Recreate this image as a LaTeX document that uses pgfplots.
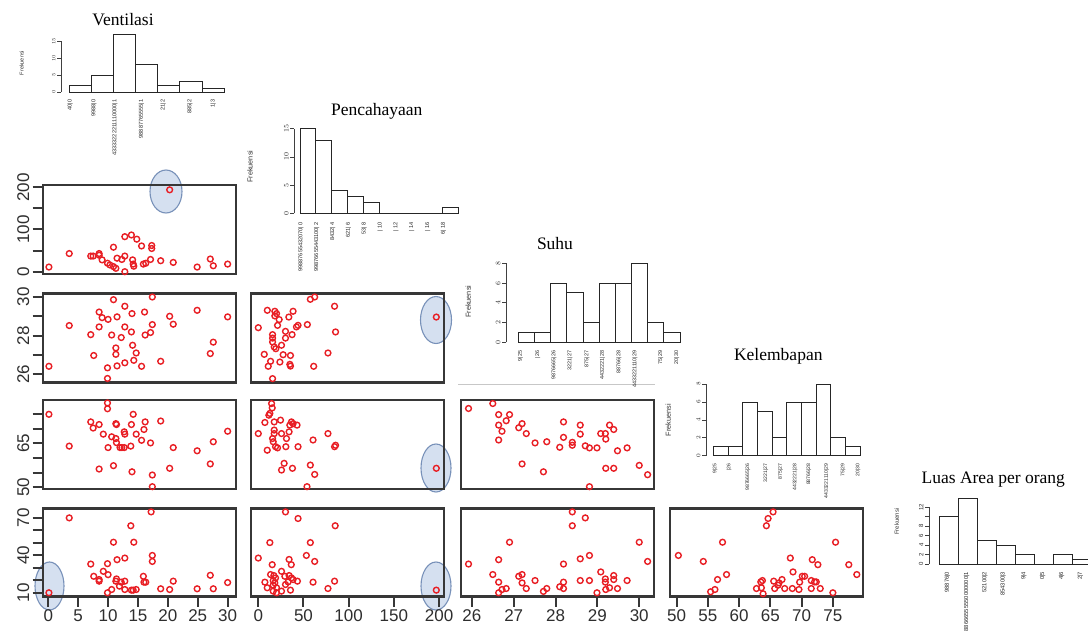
\documentclass[border=0pt]{standalone}
\usepackage{fontspec}
\setmainfont{Liberation Sans}
\newfontfamily\titlefont{Liberation Serif}
\usepackage{pgfplots}
\pgfplotsset{compat=1.18}
\definecolor{ptred}{RGB}{232,30,36}
\definecolor{frame}{RGB}{55,55,55}
\definecolor{ellfill}{RGB}{200,214,236}
\definecolor{elldraw}{RGB}{120,145,185}
\pgfplotsset{
  scat/.style={
    scale only axis, anchor=south west, width=193.3pt, height=89pt,
    axis line style={draw=frame, line width=2.3pt},
    xtick=\empty, ytick=\empty,
    tick align=outside, major tick length=10pt,
    xtick pos=lower, ytick pos=left,
    tick style={draw=frame, line width=2pt},
    tick label style={font=\fontsize{17}{17}\selectfont, text=black!82},
    yticklabel style={rotate=90, anchor=south},
    clip=false,
  },
  pts/.style={only marks, mark=o, mark size=2.9pt, draw=ptred, mark options={line width=1.4pt, draw=ptred}},
  hist/.style={
    scale only axis, anchor=south west,
    axis x line*=bottom, axis y line*=left,
    axis line style={draw=none,-},
    xtick style={draw=none},
    ytick style={draw=black!75, line width=0.7pt},
    tick align=outside, major tick length=4pt,
    xticklabel style={rotate=90, anchor=east, inner sep=1pt, text=black!85},
    yticklabel style={rotate=90, anchor=south, inner sep=1.5pt, text=black!85},
    clip=false,
  },
  bars/.style={ybar interval, draw=black!85, fill=white, line width=0.9pt},
}
\begin{document}
\begin{tikzpicture}
\useasboundingbox (0pt,0pt) rectangle (1088pt,-633pt);
\fill[white] (0pt,0pt) rectangle (1088pt,-633pt);

% highlight ellipses
\begin{scope}[fill=ellfill, draw=elldraw, line width=1.1pt, fill opacity=0.75]
\filldraw (166pt,-191.5pt) ellipse [x radius=16pt, y radius=21.5pt];
\filldraw (436pt,-320pt) ellipse [x radius=15.5pt, y radius=23.5pt];
\filldraw (436pt,-468pt) ellipse [x radius=15pt, y radius=24pt];
\filldraw (436pt,-586pt) ellipse [x radius=15pt, y radius=24pt];
\filldraw (49.5pt,-586pt) ellipse [x radius=14.5pt, y radius=24pt];
\end{scope}
\draw[black!22, line width=0.8pt] (458pt,-384pt) -- (655pt,-384pt);

% ---------------- Histograms ----------------
% Ventilasi
\node[font=\titlefont\fontsize{17.5}{18}\selectfont] at (123pt,-20pt) {Ventilasi};
\node[rotate=90, font=\fontsize{5.5}{6}\selectfont, text=black!80] at (21.7pt,-63pt) {Frekuensi};
\begin{axis}[hist, at={(61pt,-94.3pt)}, width=171.3pt, height=62.1pt,
  xmin=-0.36, xmax=7.36, ymin=-0.68, ymax=17.68,
  ytick={0,5,10,15},
  yticklabel style={font=\fontsize{5.5}{5.5}\selectfont},
  xtick={0.05,1.13,2.07,3.27,4.25,5.45,6.5},
  xticklabels={40|0,9988|0,43333222211110000|1,98887765555|1,21|2,885|2,1|3},
  xticklabel style={font=\fontsize{5.6}{6}\selectfont}]
\addplot[bars] coordinates {(0,2)(1,5)(2,17)(3,8)(4,2)(5,3)(6,1)(7,1)};
\draw[black!75, line width=0.7pt] (axis cs:-0.36,0) -- (axis cs:-0.36,15);
\end{axis}

% Pencahayaan
\node[font=\titlefont\fontsize{17.5}{18}\selectfont] at (376.7pt,-111.7pt) {Pencahayaan};
\node[rotate=90, font=\fontsize{7.3}{8}\selectfont, text=black!80] at (250pt,-166.7pt) {Frekuensi};
\begin{axis}[hist, at={(294.3pt,-216.7pt)}, width=169.7pt, height=91.4pt,
  xmin=-0.36, xmax=10.36, ymin=-0.6, ymax=15.6,
  ytick={0,5,10,15},
  yticklabel style={font=\fontsize{7}{7}\selectfont},
  xtick={0.06,1.06,2.06,3.06,4.06,5.06,6.06,7.06,8.06,9.06},
  xticklabels={99887655432070| 0,99876655443100| 2,8432| 4,621| 6,53| 8,| 10,| 12,| 14,| 16,6| 18},
  xticklabel style={font=\fontsize{5.6}{6}\selectfont}]
\addplot[bars] coordinates {(0,15)(1,13)(2,4)(3,3)(4,2)(5,0)(6,0)(7,0)(8,0)(9,1)(10,1)};
\draw[black!75, line width=0.7pt] (axis cs:-0.36,0) -- (axis cs:-0.36,15);
\end{axis}

% Suhu
\node[font=\titlefont\fontsize{17.5}{18}\selectfont] at (555pt,-243.3pt) {Suhu};
\node[rotate=90, font=\fontsize{7.3}{8}\selectfont, text=black!80] at (468.3pt,-301.7pt) {Frekuensi};
\begin{axis}[hist, at={(506pt,-345.5pt)}, width=180.5pt, height=85.4pt,
  xmin=-0.76, xmax=10.4, ymin=-0.32, ymax=8.32,
  ytick={0,2,4,6,8},
  yticklabel style={font=\fontsize{7}{7}\selectfont},
  xtick={0.14,1.2,2.2,3.2,4.25,5.2,6.23,7.22,8.8,9.8},
  xticklabels={9|25,|26,9876665|26,3221|27,875|27,4432221|28,88766|28,4433221110|29,75|29,20|30},
  xticklabel style={font=\fontsize{5.4}{6}\selectfont}]
\addplot[bars] coordinates {(0,1)(1,1)(2,6)(3,5)(4,2)(5,6)(6,6)(7,8)(8,2)(9,1)(10,1)};
\draw[black!75, line width=0.7pt] (axis cs:-0.76,0) -- (axis cs:-0.76,8);
\end{axis}

% Kelembapan
\node[font=\titlefont\fontsize{17.5}{18}\selectfont] at (778.3pt,-356pt) {Kelembapan};
\node[rotate=90, font=\fontsize{7.3}{8}\selectfont, text=black!80] at (668.3pt,-420pt) {Frekuensi};
\begin{axis}[hist, at={(706pt,-458.6pt)}, width=160pt, height=77.4pt,
  xmin=-0.5, xmax=10.4, ymin=-0.32, ymax=8.32,
  ytick={0,2,4,6,8},
  yticklabel style={font=\fontsize{6.5}{7}\selectfont},
  xtick={0.11,1.07,2.34,3.58,4.58,5.56,6.5,7.71,8.84,9.86},
  xticklabels={9|25,|26,9876665|26,3221|27,875|27,4432221|28,88766|28,4433221110|29,75|29,20|30},
  xticklabel style={font=\fontsize{5.1}{6}\selectfont}]
\addplot[bars] coordinates {(0,1)(1,1)(2,6)(3,5)(4,2)(5,6)(6,6)(7,8)(8,2)(9,1)(10,1)};
\draw[black!75, line width=0.7pt] (axis cs:-0.5,0) -- (axis cs:-0.5,8);
\end{axis}

% Luas Area per orang
\node[font=\titlefont\fontsize{17.5}{18}\selectfont] at (993.3pt,-480pt) {Luas Area per orang};
\node[rotate=90, font=\fontsize{6}{7}\selectfont, text=black!80] at (896.7pt,-521.7pt) {Frekuensi};
\begin{axis}[hist, at={(929pt,-566.6pt)}, width=170.5pt, height=71.3pt,
  xmin=-0.54, xmax=8.4, ymin=-0.56, ymax=14.56,
  ytick={0,2,4,6,8,10,12}, yticklabels={0,2,4,6,8,,12},
  yticklabel style={font=\fontsize{6}{6}\selectfont},
  xtick={0.42,1.43,2.39,3.35,4.44,5.42,6.42,7.4},
  xticklabels={98876|0,88666555550000000|1,52100|2,854300|3,9|4,0|5,4|6,2|7},
  xticklabel style={font=\fontsize{5.8}{6}\selectfont}]
\addplot[bars] coordinates {(0,10)(1,14)(2,5)(3,4)(4,2)(5,0)(6,2)(7,1)(8,1)};
\draw[black!75, line width=0.7pt] (axis cs:-0.54,0) -- (axis cs:-0.54,12);
\end{axis}

% ---------------- Scatter panels ----------------
% Row 1: Pencahayaan vs Ventilasi
\begin{axis}[scat, at={(42.7pt,-274.3pt)}, height=89.3pt,
  xmin=-0.94, xmax=31.4, ymin=-6.2, ymax=205.4,
  ytick={0,50,100,150,200}, yticklabels={0,,100,,200}]
\addplot[pts] coordinates {(0.1,11)(3.5,43)(7.1,37)(7.5,37)(8.5,43)(8.5,39)(9.0,28)(9.9,20)(10.3,16)(10.9,12)(10.9,58)(11.3,8)(11.5,32)(12.3,29)(12.8,37)(12.8,0)(12.8,83)(13.9,87)(14.1,28)(14.2,18)(14.3,13)(14.8,77)(15.6,61)(15.9,18)(16.3,20)(17.3,62)(17.3,55)(17.1,29)(18.8,26)(20.3,194)(20.9,22)(24.9,11)(27.1,30)(27.6,14)(30.0,18)};
\end{axis}

% Row 2: Suhu
\begin{axis}[scat, at={(42.7pt,-382.5pt)},
  xmin=-0.94, xmax=31.4, ymin=25.57, ymax=30.18,
  ytick={26,27,28,29,30}, yticklabels={26,,28,,30}]
\addplot[pts] coordinates {(0.1,26.41)(3.5,28.52)(7.1,28.05)(7.6,26.97)(8.5,29.22)(8.5,28.45)(9.0,28.93)(10.0,28.84)(9.9,26.33)(9.9,25.78)(10.6,28.03)(10.9,29.86)(11.3,27.36)(11.3,27.03)(11.5,28.97)(11.5,26.43)(12.2,27.9)(12.8,29.52)(12.8,28.45)(12.8,26.59)(14.0,29.14)(13.9,28.19)(14.1,27.5)(14.7,27.1)(14.3,26.72)(15.6,26.41)(16.1,29.22)(16.2,28.03)(17.1,28.16)(17.4,28.57)(17.4,30.0)(18.8,26.67)(20.3,29.0)(20.9,28.59)(24.9,29.31)(27.1,27.07)(27.6,27.66)(30.0,28.97)};
\end{axis}
\begin{axis}[scat, at={(250.7pt,-382.5pt)},
  xmin=-8.4, xmax=205.5, ymin=25.57, ymax=30.18]
\addplot[pts] coordinates {(0,28.41)(10,29.31)(15.8,28.05)(15.8,27.87)(15.8,27.67)(13.6,26.67)(15.8,25.77)(11,26.41)(6.6,27.03)(18.3,29.26)(18.3,29.02)(20.2,29.14)(23.1,28.83)(21.3,28.53)(17.6,27.41)(19.4,27.32)(25.7,27.5)(27.5,27.01)(23.9,26.63)(30.1,28.22)(30.1,27.87)(33.8,28.96)(37.4,28.05)(38.5,29.26)(35.6,26.97)(34.9,26.51)(35.6,26.42)(42.2,28.45)(44,28.53)(54.3,28.57)(57.6,29.88)(62.4,30.0)(61.3,26.41)(77.1,27.1)(84.4,29.52)(85.5,28.19)(197,28.96)};
\end{axis}

% Row 3: Kelembapan
\begin{axis}[scat, at={(42.7pt,-489.3pt)},
  xmin=-0.94, xmax=31.4, ymin=49.3, ymax=79.8,
  ytick={50,55,60,65,70,75}, yticklabels={50,,,65,,}]
\addplot[pts] coordinates {(0.1,75)(3.5,64.1)(7.1,72.4)(7.5,70.3)(8.5,71.5)(8.5,56.25)(9.2,68.2)(9.9,78.9)(9.9,76.9)(10.0,63.6)(10.6,67.3)(10.9,57.4)(11.3,71.8)(11.4,71.5)(11.3,66.7)(11.4,65.3)(12.0,63.6)(12.3,63.6)(12.7,69.0)(12.8,68.2)(12.7,63.6)(13.8,64.1)(13.9,71.5)(14.0,55.3)(14.2,75)(14.7,68.2)(15.6,66.1)(16.0,69.8)(16.2,72.4)(17.1,65.2)(17.4,54.2)(17.4,50.2)(18.8,72.7)(20.3,56.5)(20.9,63.6)(24.9,62.5)(27.1,58.0)(27.6,65.6)(30.0,69.2)};
\end{axis}
\begin{axis}[scat, at={(250.7pt,-489.3pt)},
  xmin=-8.4, xmax=205.5, ymin=49.3, ymax=79.8]
\addplot[pts] coordinates {(14.7,78.7)(15.4,77.2)(12.8,75.3)(11.7,74.7)(7.3,72.2)(0,68.4)(17.6,72.4)(17.6,69.6)(17.6,68.4)(15.8,66.7)(16.5,65.6)(19.1,63.9)(21.3,63.5)(9.9,62.7)(24.6,73)(25.7,68.4)(30.5,63.9)(31.2,66.7)(34.1,69)(36.7,72.4)(34.9,71.3)(38.5,71.8)(42.9,71.3)(44,63.9)(60.6,66.2)(77.1,68.4)(84.4,63.9)(85.5,64.4)(28.6,58.2)(25.7,55.9)(37.8,56.5)(57.6,57.6)(62.4,54.4)(53.9,50.2)(197,56.5)};
\end{axis}
\begin{axis}[scat, at={(461pt,-489.3pt)},
  xmin=25.74, xmax=30.36, ymin=49.3, ymax=79.8]
\addplot[pts] coordinates {(25.92,77)(26.5,78.7)(26.64,74.9)(26.64,71.3)(26.64,66.2)(26.72,69.2)(26.82,72.8)(26.9,74.9)(27.12,70.4)(27.2,71.8)(27.3,68.4)(27.2,58)(27.51,65.2)(27.71,55.3)(27.79,65.6)(28.1,63.7)(28.19,72.4)(28.19,67.1)(28.4,65.4)(28.4,64.4)(28.59,71.3)(28.59,68.2)(28.71,64.2)(28.81,63.5)(28.81,50.2)(28.99,63.5)(29.08,68.4)(29.19,68.4)(29.29,71.3)(29.39,69.8)(29.2,66.5)(29.2,56.5)(29.39,56.5)(29.48,62.5)(29.71,63.5)(30.0,57.5)(30.2,54.3)};
\end{axis}

% Row 4: Luas Area per orang
\begin{axis}[scat, at={(42.7pt,-596.5pt)}, height=88pt,
  xmin=-0.94, xmax=31.4, ymin=7, ymax=77.5,
  ytick={10,20,30,40,50,60,70}, yticklabels={10,,,40,,,70},
  xtick={0,5,10,15,20,25,30}, xticklabels={0,5,10,15,20,25,30}]
\addplot[pts] coordinates {(0.1,10)(3.5,70)(7.1,33)(7.6,23.2)(8.5,20.6)(8.5,19.3)(9.2,27.2)(9.9,33.3)(10.0,24.5)(9.9,10)(10.6,12.6)(10.9,50.5)(11.3,19.3)(11.4,21.1)(11.5,36.5)(11.9,15.3)(12.2,18.5)(12.8,37.8)(12.8,19.3)(12.8,12.6)(13.8,63.7)(13.9,12.1)(14.2,12.1)(14.7,12.6)(14.3,50.5)(15.9,23.2)(16.0,18.5)(16.3,18.5)(17.2,74.8)(17.4,39.9)(17.4,35.1)(18.8,13.2)(20.3,12.6)(20.9,19.3)(24.9,13.2)(27.1,24)(27.6,13.2)(30.0,18.2)};
\end{axis}
\begin{axis}[scat, at={(250.7pt,-596.5pt)}, height=88pt,
  xmin=-8.4, xmax=205.5, ymin=7, ymax=77.5,
  xtick={0,50,100,150,200}, xticklabels={0,50,100,150,200}]
\addplot[pts] coordinates {(30.1,74.8)(44,69.5)(85.1,63.7)(12.8,50.2)(57.6,50.2)(0,37.8)(34.1,36.7)(36.5,32.5)(53.2,39.9)(62.4,35.1)(15.4,32.5)(13.6,24.6)(17.2,23.8)(19.1,21.9)(16.5,19.8)(18.3,17.9)(16.5,16.1)(20.2,14)(16.5,11.3)(20.2,10)(25.7,27.2)(29.4,23.2)(34.1,23.8)(36.7,21.9)(38.5,20.6)(43.3,19.3)(33.0,18.7)(7.3,18.5)(9.9,14)(30.1,16.6)(35.6,12.1)(25.7,11.3)(60.6,18.5)(77.1,13.4)(84.4,19.3)(197,12.1)};
\end{axis}
\begin{axis}[scat, at={(461pt,-596.5pt)}, height=88pt,
  xmin=25.74, xmax=30.36, ymin=7, ymax=77.5,
  xtick={26,27,28,29,30}, xticklabels={26,27,28,29,30}]
\addplot[pts] coordinates {(25.92,33)(26.5,24.6)(26.64,36.5)(26.64,18.5)(26.64,10)(26.72,12.6)(26.82,13.4)(26.9,50.5)(27.12,23.2)(27.2,24.6)(27.2,17.9)(27.3,13.4)(27.51,19.8)(27.71,11.1)(27.79,13.4)(28.1,14.8)(28.19,13.4)(28.19,18.5)(28.19,33)(28.4,74.8)(28.4,63.7)(28.59,37.2)(28.59,19.8)(28.71,70)(28.81,39.9)(28.81,19.8)(28.99,10)(29.08,26.7)(29.19,21.1)(29.19,18.5)(29.2,12.6)(29.29,14)(29.39,23.8)(29.39,20.6)(29.48,13.4)(29.71,19.8)(30.0,50.5)(30.2,35.1)};
\end{axis}
\begin{axis}[scat, at={(670pt,-596.5pt)}, height=88pt,
  xmin=48.93, xmax=79.87, ymin=7, ymax=77.5,
  xtick={50,55,60,65,70,75}, xticklabels={50,55,60,65,70,75}]
\addplot[pts] coordinates {(50.27,39.9)(54.26,35.1)(55.43,10.8)(56.12,12.6)(56.54,20.6)(57.34,50.5)(57.98,24.6)(62.77,13.4)(63.46,18.7)(63.72,19.8)(63.56,14)(63.83,9.2)(64.36,63.7)(64.63,69.5)(65.43,74.8)(65.69,13.4)(65.53,19.3)(66.38,17.9)(66.86,20.6)(67.29,13.4)(66.22,16.1)(68.19,37.8)(68.51,13.4)(68.62,26.7)(69.57,12.6)(69.68,18.5)(70.1,23.2)(70.48,23.2)(71.54,19.8)(72.07,18.7)(72.34,18.7)(71.54,13.4)(72.98,13.4)(71.7,36.5)(72.6,32.5)(75,10)(75.43,50.5)(77.55,32.5)(78.83,24.6)};
\end{axis}
\end{tikzpicture}
\end{document}
